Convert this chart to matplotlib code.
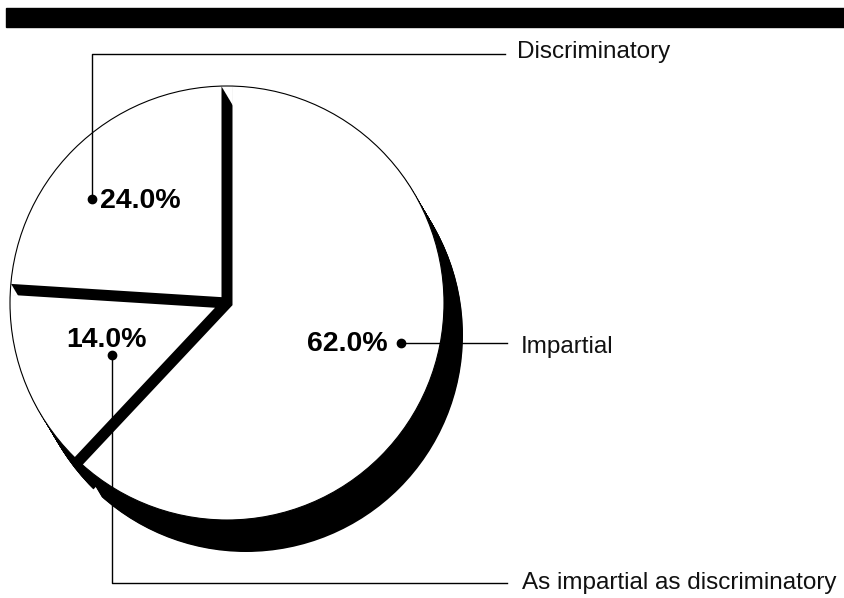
import numpy as np
import matplotlib.pyplot as plt
from matplotlib.patches import Circle, Rectangle

# slices, counterclockwise from 12 o'clock
categories = ["Discriminatory", "As impartial as discriminatory", "Impartial"]
shares = [24.0, 14.0, 62.0]

W, H = 844, 598
fig = plt.figure(figsize=(W / 100, H / 100), dpi=100)
ax = fig.add_axes([0, 0, 1, 1])


def py(y):
    # pixel row (from top) -> data y
    return H - y


cx, cy = 227, py(303)
r = 217
gap = 5.5            # half width of the band between two slices
sdx, sdy = 19, -32   # depth of the black extrusion

# push every slice out so each straight edge sits `gap` away from the split line
half = np.pi * np.array(shares) / 100
shift = gap / np.sin(half)
big = r + shift.max() + 5


def draw_pie(ox, oy, color, z):
    clip = Circle((cx + ox, cy + oy), r, transform=ax.transData)
    wedges, _ = ax.pie(shares, explode=shift, radius=big,
                       center=(cx + ox, cy + oy), startangle=90,
                       colors=[color] * len(shares),
                       wedgeprops=dict(linewidth=0, zorder=z))
    for w in wedges:
        w.set_clip_on(True)
        w.set_clip_path(clip)


for t in np.linspace(0, 1, 45)[1:]:
    draw_pie(t * sdx, t * sdy, "black", 1)
draw_pie(0, 0, "white", 2)
ax.add_patch(Circle((cx, cy), r, fill=False, ec="black", lw=0.8, zorder=3))

# top rule
ax.add_patch(Rectangle((6, py(27)), W - 6, 19, color="black", zorder=3))

# leader lines: dot -> elbow -> end, label position, percent text position
leaders = {
    "Discriminatory": dict(path=[(92, 199), (92, 54), (505, 54)],
                           label=(517, 52), pct=(100, 201), ha="left"),
    "Impartial": dict(path=[(401, 343), (507, 343)],
                      label=(521, 347), pct=(388, 344), ha="right"),
    "As impartial as discriminatory": dict(path=[(112, 355), (112, 583), (507, 583)],
                                           label=(522, 583), pct=(106, 340), ha="center"),
}

for name, val in zip(categories, shares):
    d = leaders[name]
    xs = [p[0] for p in d["path"]]
    ys = [py(p[1]) for p in d["path"]]
    ax.plot(xs, ys, color="black", lw=1, zorder=4)
    ax.plot(xs[0], ys[0], "o", ms=6, color="black", zorder=4)
    ax.text(d["label"][0], py(d["label"][1]), name, ha="left", va="center",
            fontsize=17.5, family=["Liberation Sans", "DejaVu Sans"], color="#111111", zorder=5)
    ax.text(d["pct"][0], py(d["pct"][1]), f"{val:.1f}%", ha=d["ha"], va="center",
            fontsize=20.5, fontweight="bold", family=["Liberation Sans", "DejaVu Sans"],
            zorder=5)

ax.set_aspect("auto")
ax.set_xlim(0, W)
ax.set_ylim(0, H)
ax.axis("off")

fig.savefig("out.png", dpi=100, facecolor="white")
